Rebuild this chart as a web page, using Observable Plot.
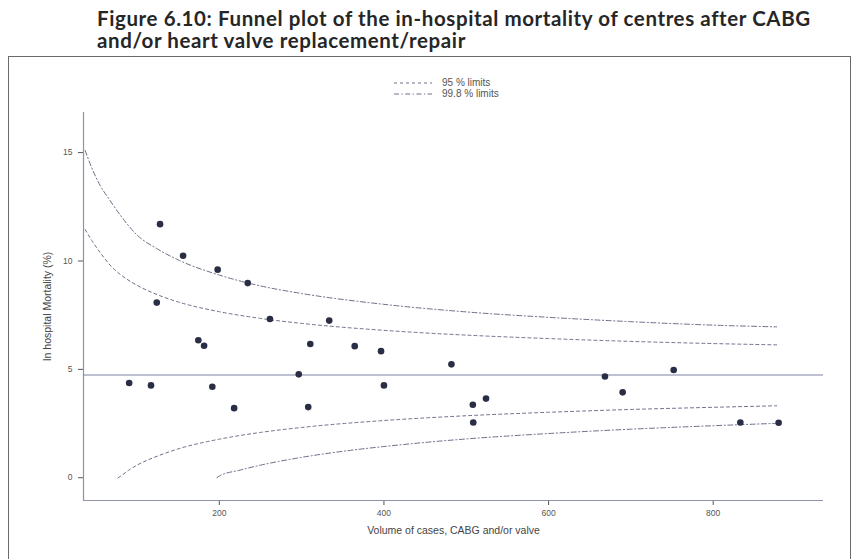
<!DOCTYPE html>
<html>
<head>
<meta charset="utf-8">
<script src="https://cdn.jsdelivr.net/npm/d3@7"></script>
<script src="https://cdn.jsdelivr.net/npm/@observablehq/plot@0.6"></script>
<style>
  html, body { margin: 0; padding: 0; background: #fff; }
  body { width: 854px; height: 559px; position: relative; overflow: hidden; }
  #title { position: absolute; left: 97px; top: 7px; font-family: Lato, "Open Sans", sans-serif; font-weight: 700; font-size: 20.5px; letter-spacing: 0.6px; line-height: 22px; color: #262626; white-space: nowrap; }
  #box { position: absolute; left: 8px; top: 56px; width: 843px; height: 520px; border: 1.5px solid #6a6a6a; box-sizing: border-box; }
  #legend { position: absolute; left: 394px; top: 78px; font-family: "Liberation Sans", Arial, sans-serif; font-size: 10px; color: #555; line-height: 10.5px; }
  #legend .row { display: flex; align-items: center; }
  #legend svg { margin-right: 10px; }
  #chart { position: absolute; left: 0; top: 105px; }
  #chart svg [aria-label="x-axis label"] text, #chart svg [aria-label="y-axis label"] text { font-size: 10.5px; fill: #444; }
</style>
</head>
<body>
<div id="title">Figure 6.10: Funnel plot of the in-hospital mortality of centres after CABG<br>and/or heart valve replacement/repair</div>
<div id="box"></div>
<div id="legend"></div>
<div id="chart"></div>
<script>
// Centres: volume of cases and in-hospital mortality (%)
const volume =    [128, 156, 198, 234.5, 124, 261.5, 174.5, 181.5, 90.5, 117, 191.5, 218, 333.5, 310.5, 364.5, 396.5, 482, 296.5, 400, 308, 508, 524, 508.5, 668.5, 752, 690, 833, 879.5];
const mortality = [11.7, 10.24, 9.6, 8.98, 8.08, 7.32, 6.34, 6.09, 4.37, 4.26, 4.2, 3.21, 7.25, 6.17, 6.07, 5.84, 5.23, 4.77, 4.26, 3.26, 3.37, 3.65, 2.55, 4.67, 4.97, 3.94, 2.55, 2.54];

// Overall mortality (%)
const overallRate = 4.74;

// 95 % limits
const upper95N = [37, 45, 55, 70, 80, 100, 125, 150, 200, 250, 300, 400, 500, 600, 700, 800, 877];
const upper95V = [11.45, 10.95, 10.4, 9.7, 9.37, 8.88, 8.44, 8.11, 7.66, 7.35, 7.12, 6.8, 6.58, 6.42, 6.29, 6.19, 6.13];
const lower95N = [77, 80, 90, 100, 125, 150, 200, 250, 300, 400, 500, 600, 700, 800, 877];
const lower95V = [0, 0.07, 0.35, 0.58, 1.0, 1.33, 1.78, 2.09, 2.32, 2.64, 2.86, 3.02, 3.15, 3.25, 3.32];

// 99.8 % limits
const upper998N = [37, 45, 55, 67, 80, 100, 125, 150, 200, 250, 300, 400, 500, 600, 700, 800, 877];
const upper998V = [15.1, 14.3, 13.5, 12.8, 12.1, 11.2, 10.55, 10.05, 9.35, 8.85, 8.5, 8.0, 7.65, 7.4, 7.2, 7.04, 6.96];
const lower998N = [197, 200, 225, 250, 300, 350, 400, 500, 600, 700, 800, 877];
const lower998V = [0, 0.08, 0.35, 0.58, 0.94, 1.22, 1.44, 1.79, 2.04, 2.24, 2.4, 2.51];

// Axes
const xDomain = [35, 934];
const yDomain = [-1.05, 16.85];
const xTicks = [200, 400, 600, 800];
const yTicks = [0, 5, 10, 15];

const legendItems = [
  {label: "95 % limits", dash: "3,3"},
  {label: "99.8 % limits", dash: "5,2.5,1.2,2.5"}
];

const toRows = (ns, vs) => ns.map((n, i) => ({n, v: vs[i]}));
const centres = volume.map((v, i) => ({volume: v, mortality: mortality[i]}));

const lineColor = "#6d7088";
const axisColor = "#8e92ab";

const chart = Plot.plot({
  width: 854,
  height: 454,
  marginLeft: 83,
  marginRight: 31,
  marginTop: 7,
  marginBottom: 59,
  style: {fontFamily: '"Liberation Sans", Arial, sans-serif', fontSize: "8.5px", color: "#555", background: "transparent", overflow: "visible"},
  x: {domain: xDomain, ticks: xTicks, tickSize: 5, tickPadding: 4, label: "Volume of cases, CABG and/or valve", labelAnchor: "center", labelOffset: 33, labelArrow: "none"},
  y: {domain: yDomain, ticks: yTicks, tickSize: 5, tickPadding: 6, label: "In hospital Mortality (%)", labelAnchor: "center", labelOffset: 40, labelArrow: "none"},
  marks: [
    Plot.ruleX([xDomain[0]], {stroke: axisColor, strokeWidth: 1.2}),
    Plot.ruleY([yDomain[0]], {stroke: axisColor, strokeWidth: 1.2}),
    Plot.ruleY([overallRate], {stroke: "#7f83a6", strokeWidth: 1.1}),
    Plot.line(toRows(upper998N, upper998V), {x: "n", y: "v", curve: "monotone-x", stroke: lineColor, strokeWidth: 1, strokeDasharray: legendItems[1].dash}),
    Plot.line(toRows(lower998N, lower998V), {x: "n", y: "v", curve: "monotone-x", stroke: lineColor, strokeWidth: 1, strokeDasharray: legendItems[1].dash}),
    Plot.line(toRows(upper95N, upper95V), {x: "n", y: "v", curve: "monotone-x", stroke: lineColor, strokeWidth: 1, strokeDasharray: legendItems[0].dash}),
    Plot.line(toRows(lower95N, lower95V), {x: "n", y: "v", curve: "monotone-x", stroke: lineColor, strokeWidth: 1, strokeDasharray: legendItems[0].dash}),
    Plot.dot(centres, {x: "volume", y: "mortality", r: 3.3, fill: "#2a2e44", stroke: "none"})
  ]
});
document.getElementById("chart").appendChild(chart);

const legend = document.getElementById("legend");
for (const item of legendItems) {
  const row = document.createElement("div");
  row.className = "row";
  row.innerHTML = `<svg width="38" height="6"><line x1="0" y1="3" x2="38" y2="3" stroke="${lineColor}" stroke-width="1" stroke-dasharray="${item.dash}"/></svg><span>${item.label}</span>`;
  legend.appendChild(row);
}
</script>
</body>
</html>
